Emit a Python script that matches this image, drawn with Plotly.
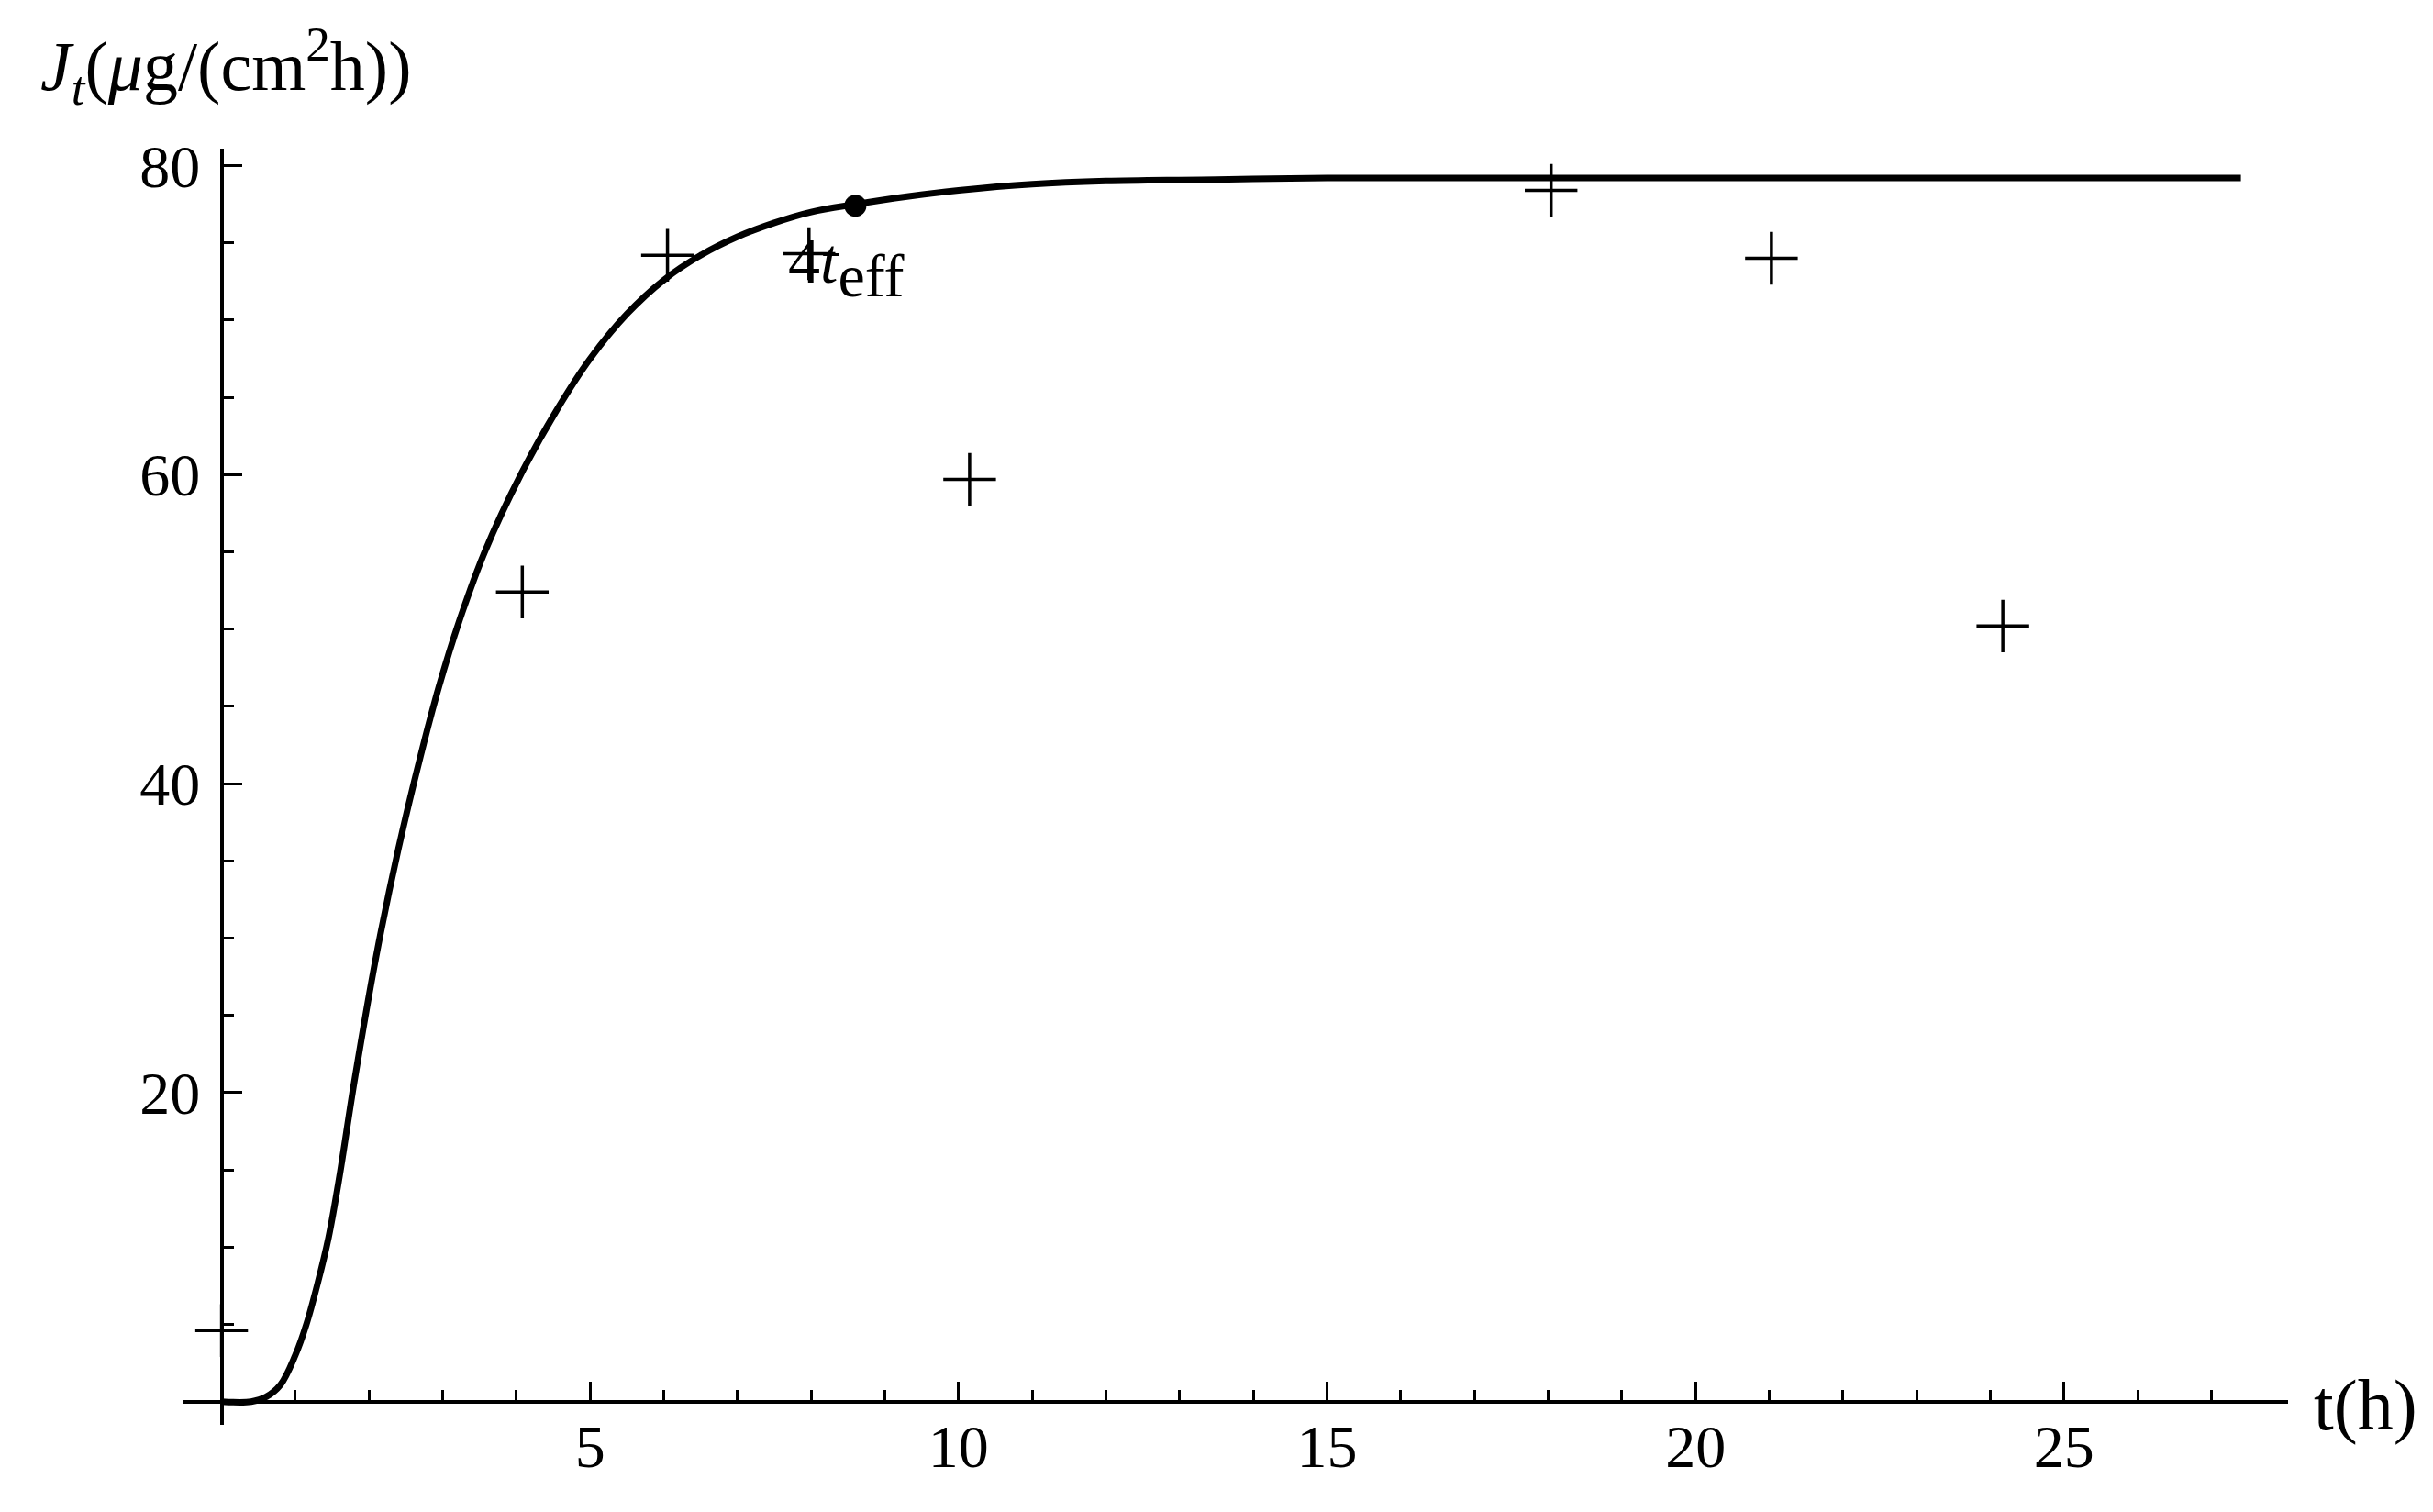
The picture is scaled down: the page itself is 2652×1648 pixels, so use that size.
import plotly.graph_objects as go

# Model curve J_t(t)
curve_t = [0, 0.4, 0.6, 0.8, 1.0, 1.15, 1.3, 1.45, 1.6, 1.8, 2.1, 2.4, 2.7, 2.95,
           3.23, 3.57, 4.07, 4.55, 5.0, 5.5, 6.0, 6.5, 7.0, 7.5, 8.0, 8.6, 9.3, 10,
           11, 12, 13.5, 15, 17, 20, 27.4]
curve_j = [0, 0, 0.3, 1.1, 3.0, 5.0, 7.6, 10.6, 14.6, 20.7, 28.9, 35.8, 41.8, 46.3,
           50.6, 55.0, 60.1, 64.2, 67.5, 70.4, 72.6, 74.2, 75.4, 76.3, 77.0, 77.5, 78.0, 78.4,
           78.8, 79.0, 79.1, 79.2, 79.2, 79.2, 79.2]

# Measured points (crosses)
meas_t = [0, 4.08, 6.05, 7.97, 10.15, 18.04, 21.03, 24.17]
meas_j = [4.6, 52.4, 74.2, 74.3, 59.7, 78.4, 74.0, 50.2]

# 4 t_eff marker
teff_t = [8.6]
teff_j = [77.4]

x_major = [5, 10, 15, 20, 25]
x_minor = [v for v in range(1, 28) if v % 5 != 0]
y_major = [20, 40, 60, 80]
y_minor = [v for v in range(5, 81, 5) if v % 20 != 0]

x_range = [-0.53, 28.04]
y_range = [-1.5, 81.1]

FONT = "Liberation Serif"
L, R, T, B = 191, 166, 154, 103

fig = go.Figure()
fig.add_trace(go.Scatter(x=curve_t, y=curve_j, mode="lines",
                         line=dict(color="black", width=7, shape="spline", smoothing=1.0),
                         hoverinfo="skip"))
fig.add_trace(go.Scatter(x=meas_t, y=meas_j, mode="markers",
                         marker=dict(symbol="cross-thin", size=41,
                                     line=dict(color="black", width=3.5)),
                         hoverinfo="skip"))
fig.add_trace(go.Scatter(x=teff_t, y=teff_j, mode="markers",
                         marker=dict(symbol="circle", size=24, color="black"),
                         hoverinfo="skip"))

axis_common = dict(showgrid=False, zeroline=False, showline=True,
                   linecolor="black", linewidth=4, anchor="free",
                   ticks="inside", ticklen=20, tickwidth=3, tickcolor="black",
                   tickmode="array",
                   tickfont=dict(family=FONT, size=66, color="black"))

fig.update_layout(
    width=2652, height=1648,
    margin=dict(l=L, r=R, t=T, b=B),
    paper_bgcolor="white", plot_bgcolor="white",
    showlegend=False,
    font=dict(family=FONT, size=66, color="black"),
    xaxis=dict(range=x_range, tickvals=x_major, ticklabelstandoff=-10,
               position=(0 - y_range[0]) / (y_range[1] - y_range[0]),
               minor=dict(tickmode="array", tickvals=x_minor, ticks="inside",
                          ticklen=11, tickwidth=3, tickcolor="black"),
               **axis_common),
    yaxis=dict(range=y_range, tickvals=y_major, ticklabelstandoff=8,
               position=(0 - x_range[0]) / (x_range[1] - x_range[0]),
               minor=dict(tickmode="array", tickvals=y_minor, ticks="inside",
                          ticklen=11, tickwidth=3, tickcolor="black"),
               **axis_common),
)

fig.add_annotation(xref="paper", yref="paper", x=0, y=1,
                   text="<i>J</i><sub><i>t</i></sub>(<i>μ</i>g/(cm<sup>2</sup>h))",
                   showarrow=False, xanchor="left", yanchor="middle",
                   xshift=34 - L, yshift=T - 64,
                   font=dict(family=FONT, size=76, color="black"))
fig.add_annotation(xref="paper", yref="y", x=1, y=0,
                   text="t(h)", showarrow=False, xanchor="left", yanchor="middle",
                   xshift=26, yshift=-4, font=dict(family=FONT, size=78, color="black"))
fig.add_annotation(xref="x", yref="y", x=7.66, y=73.4,
                   text="4<i>t</i><sub><span style='font-size:66px'>eff</span></sub>",
                   showarrow=False, xanchor="left", yanchor="middle",
                   font=dict(family=FONT, size=70, color="black"))

fig.write_html("out.html")
